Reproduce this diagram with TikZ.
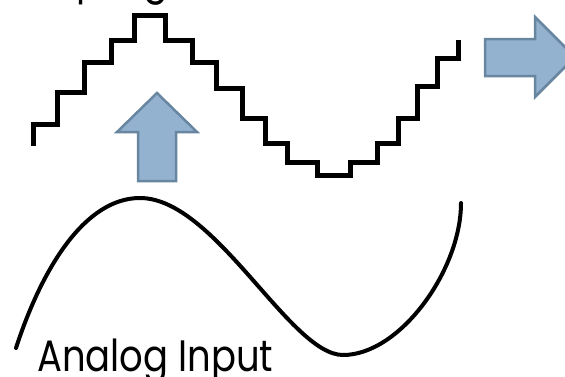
\documentclass[tikz,border=0pt]{standalone}
\usepackage{fontspec}
\setmainfont{Poppins}
\definecolor{arrowfill}{RGB}{146,178,207}
\definecolor{arrowline}{RGB}{104,134,160}

\begin{document}
\begin{tikzpicture}[
  x=1pt, y=-1pt,
  stairs/.style={line width=5pt, black, line join=miter},
  wave/.style={line width=4pt, black, line cap=round},
  bigarrow/.style={draw=arrowline, fill=arrowfill, line width=2.5pt, line join=miter},
  signaltext/.style={font=\fontsize{44}{50}\selectfont, inner sep=0pt, xscale=0.84}
]
\useasboundingbox (0,0) rectangle (565,376);
\clip (0,0) rectangle (565,376);

% quantised signal
\draw[stairs] (33,146) |- (57,124) |- (84,92) |- (111,62) |- (134,40)
  |- (165,15) |- (192,40) |- (216,62) |- (242,88) |- (265,118)
  |- (287,143) |- (317,162) |- (350,175) |- (377,162) |- (398,143)
  |- (417,118) |- (437,86) |- (458,58) -- (458,40);

% analog input
\draw[wave] (16,348) .. controls (42,268) and (85,198) .. (140,198)
  .. controls (215,198) and (290,355) .. (343,355)
  .. controls (400,355) and (461,270) .. (461,203);

% block arrows
\coordinate (uptip) at (157,93);
\draw[bigarrow] (uptip) -- ++(40,39) -- ++(-21,0) -- ++(0,49) -- ++(-38,0)
  -- ++(0,-49) -- ++(-21,0) -- cycle;
\coordinate (outtip) at (575,57);
\draw[bigarrow] (outtip) -- ++(-40,-40) -- ++(0,22) -- ++(-50,0) -- ++(0,37)
  -- ++(50,0) -- ++(0,21) -- cycle;

\node[signaltext, anchor=base west] (sampled) at (-8,-7) {Sampling};
\node[signaltext, anchor=base west] (input) at (37,371) {Analog Input};
\end{tikzpicture}
\end{document}
